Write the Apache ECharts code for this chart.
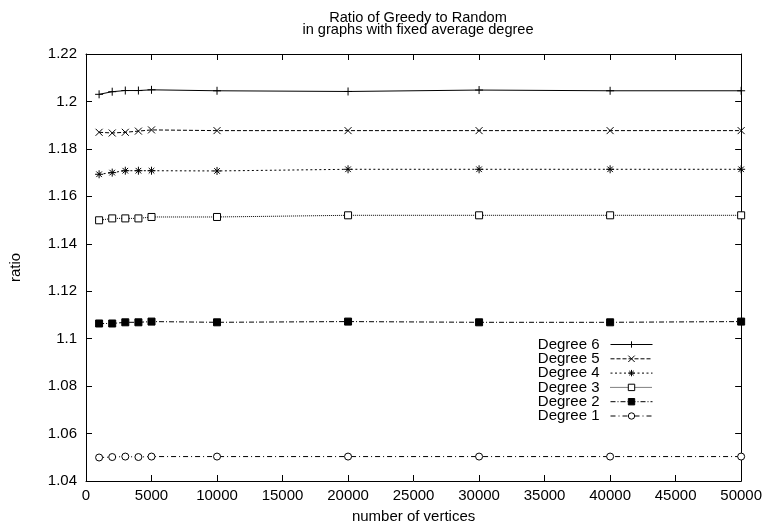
<!DOCTYPE html>
<html>
<head>
<meta charset="utf-8">
<script src="https://cdn.jsdelivr.net/npm/echarts@6/dist/echarts.min.js"></script>
<style>
  html, body { margin: 0; padding: 0; background: #fff; }
  #chart { width: 765px; height: 529px; }
</style>
</head>
<body>
<div id="chart"></div>
<script>
// === ДАННЫЕ ===
const vertices = [1000, 2000, 3000, 4000, 5000, 10000, 20000, 30000, 40000, 50000];
const degree6 = [1.2030, 1.2041, 1.2046, 1.2046, 1.2049, 1.2045, 1.2042, 1.2048, 1.2045, 1.2045];
const degree5 = [1.1870, 1.1867, 1.1870, 1.1875, 1.1880, 1.1877, 1.1877, 1.1877, 1.1877, 1.1877];
const degree4 = [1.1693, 1.1700, 1.1708, 1.1708, 1.1708, 1.1707, 1.1714, 1.1714, 1.1714, 1.1714];
const degree3 = [1.1499, 1.1507, 1.1507, 1.1507, 1.1513, 1.1513, 1.1520, 1.1520, 1.1520, 1.1520];
const degree2 = [1.1064, 1.1064, 1.1069, 1.1069, 1.1072, 1.1069, 1.1072, 1.1069, 1.1069, 1.1072];
const degree1 = [1.0499, 1.0501, 1.0503, 1.0501, 1.0503, 1.0503, 1.0503, 1.0503, 1.0503, 1.0503];

const seriesNames = ['Degree 6', 'Degree 5', 'Degree 4', 'Degree 3', 'Degree 2', 'Degree 1'];
const xTicks = { min: 0, max: 50000, interval: 5000 };
const yTicks = { min: 1.04, max: 1.22, interval: 0.02 };

// === СТИЛИ ===
const FONT = '"Liberation Sans", Arial, sans-serif';
const FS = 15;

// маркеры в стиле gnuplot
const SYM_PLUS = 'path://M0,5L10,5M5,0L5,10';
const SYM_CROSS = 'path://M0,0L10,10M10,0L0,10';
const SYM_STAR = 'path://M0,5L10,5M5,0L5,10M1.5,1.5L8.5,8.5M8.5,1.5L1.5,8.5';

function pairs(ys) {
    return vertices.map((x, i) => [x, ys[i]]);
}

function makeSeries(name, ys, symbol, size, dash, fill) {
    return {
        name: name,
        type: 'line',
        data: pairs(ys),
        symbol: symbol,
        symbolSize: size,
        showAllSymbol: true,
        animation: false,
        lineStyle: { color: '#000', width: 1, type: dash },
        itemStyle: { color: fill, borderColor: '#000', borderWidth: 1 },
        emphasis: { disabled: true }
    };
}

function axisCommon(extra) {
    return Object.assign({
        axisLine: { show: true, onZero: false, lineStyle: { color: '#000', width: 1 } },
        axisTick: { show: true, inside: true, length: 6, lineStyle: { color: '#000' } },
        splitLine: { show: false }
    }, extra);
}

// === РЕНДЕРИНГ ===
function render() {
    const chart = echarts.init(document.getElementById('chart'), null, { renderer: 'canvas' });
    const option = {
        backgroundColor: '#fff',
        animation: false,
        title: {
            text: 'Ratio of Greedy to Random\nin graphs with fixed average degree',
            left: 413,
            top: 7,
            textAlign: 'center',
            textStyle: { fontFamily: FONT, fontSize: 14.6, fontWeight: 'normal', color: '#000', lineHeight: 12 }
        },
        legend: {
            orient: 'vertical',
            right: 107,
            top: 332,
            align: 'right',
            itemWidth: 42,
            itemHeight: 8,
            itemGap: -0.7,
            selectedMode: false,
            lineStyle: { width: 1 },
            itemStyle: { borderWidth: 1 },
            textStyle: { fontFamily: FONT, fontSize: FS, color: '#000', lineHeight: 14.3, padding: [0, 6, 0, 0] },
            data: seriesNames
        },
        grid: { left: 85, right: 23, top: 54, bottom: 42 },
        xAxis: [
            axisCommon({
                type: 'value', position: 'bottom',
                min: xTicks.min, max: xTicks.max, interval: xTicks.interval,
                name: 'number of vertices', nameLocation: 'middle', nameGap: 28,
                nameTextStyle: { fontFamily: FONT, fontSize: FS, color: '#000' },
                axisLabel: { fontFamily: FONT, fontSize: FS, color: '#000', margin: 7, formatter: v => String(v) }
            }),
            axisCommon({
                type: 'value', position: 'top',
                min: xTicks.min, max: xTicks.max, interval: xTicks.interval,
                axisLabel: { show: false }
            })
        ],
        yAxis: [
            axisCommon({
                type: 'value', position: 'left',
                min: yTicks.min, max: yTicks.max, interval: yTicks.interval,
                name: 'ratio', nameLocation: 'middle', nameGap: 63,
                nameTextStyle: { fontFamily: FONT, fontSize: FS, color: '#000' },
                axisLabel: { fontFamily: FONT, fontSize: FS, color: '#000', margin: 9 }
            }),
            axisCommon({
                type: 'value', position: 'right',
                min: yTicks.min, max: yTicks.max, interval: yTicks.interval,
                axisLabel: { show: false }
            })
        ],
        series: [
            makeSeries(seriesNames[0], degree6, SYM_PLUS, 8, 'solid', '#000'),
            makeSeries(seriesNames[1], degree5, SYM_CROSS, 7, [4, 2], '#000'),
            makeSeries(seriesNames[2], degree4, SYM_STAR, 8, [2, 2.5], '#000'),
            makeSeries(seriesNames[3], degree3, 'rect', 7, [1, 1], '#fff'),
            makeSeries(seriesNames[4], degree2, 'rect', 7, [5, 2, 1, 2], '#000'),
            makeSeries(seriesNames[5], degree1, 'circle', 7, [5, 3, 1, 3], '#fff')
        ]
    };
    chart.setOption(option);
}

// === ЗАПУСК ===
render();
</script>
</body>
</html>
